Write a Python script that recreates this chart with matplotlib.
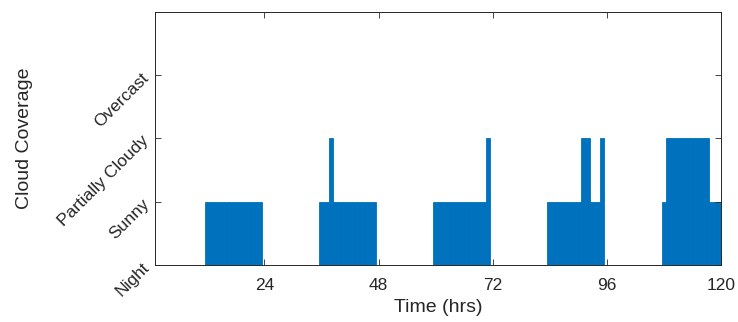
import matplotlib
matplotlib.use("Agg")
import matplotlib.pyplot as plt

# cloud coverage per hour, hours 1..120 (0 night, 1 sunny, 2 partially cloudy, 3 overcast)
hours = list(range(1, 121))
coverage = [
    0, 0, 0, 0, 0, 0, 0, 0, 0, 0, 0, 1, 1, 1, 1, 1, 1, 1, 1, 1, 1, 1, 1, 0,
    0, 0, 0, 0, 0, 0, 0, 0, 0, 0, 0, 1, 1, 2, 1, 1, 1, 1, 1, 1, 1, 1, 1, 0,
    0, 0, 0, 0, 0, 0, 0, 0, 0, 0, 0, 1, 1, 1, 1, 1, 1, 1, 1, 1, 1, 1, 2, 0,
    0, 0, 0, 0, 0, 0, 0, 0, 0, 0, 0, 1, 1, 1, 1, 1, 1, 1, 2, 2, 1, 1, 2, 0,
    0, 0, 0, 0, 0, 0, 0, 0, 0, 0, 0, 1, 2, 2, 2, 2, 2, 2, 2, 2, 2, 1, 1, 1,
]
xticks = [24, 48, 72, 96, 120]
ytick_labels = ["Night", "Sunny", "Partially Cloudy", "Overcast"]

plt.rcParams["font.family"] = ["Liberation Sans", "DejaVu Sans"]
dark = "#262626"

fig = plt.figure(figsize=(7.38, 3.22), dpi=100)
ax = fig.add_axes([0.210, 0.177, 0.767, 0.786])

ax.bar(hours, coverage, width=1.0, color="#0072BD", edgecolor="#0072BD", linewidth=0.6)

ax.set_xlim(1, 120)
ax.set_ylim(0, 4)
ax.set_xticks(xticks)
ax.set_yticks(range(len(ytick_labels)))
ax.set_yticklabels(ytick_labels, rotation=45, rotation_mode="anchor", ha="right", va="center")

ax.tick_params(direction="in", length=4, width=0.6, colors=dark, labelsize=12.5,
               top=True, right=True)
ax.tick_params(axis="x", pad=9)
ax.tick_params(axis="y", pad=6)
for s in ax.spines.values():
    s.set_color(dark)
    s.set_linewidth(0.7)

ax.set_xlabel("Time (hrs)", fontsize=14, color=dark)
ax.set_ylabel("Cloud Coverage", fontsize=14, color=dark)
ax.xaxis.set_label_coords(0.5, -0.135)
ax.yaxis.set_label_coords(-0.216, 0.5)

fig.savefig("out.png", dpi=100)
